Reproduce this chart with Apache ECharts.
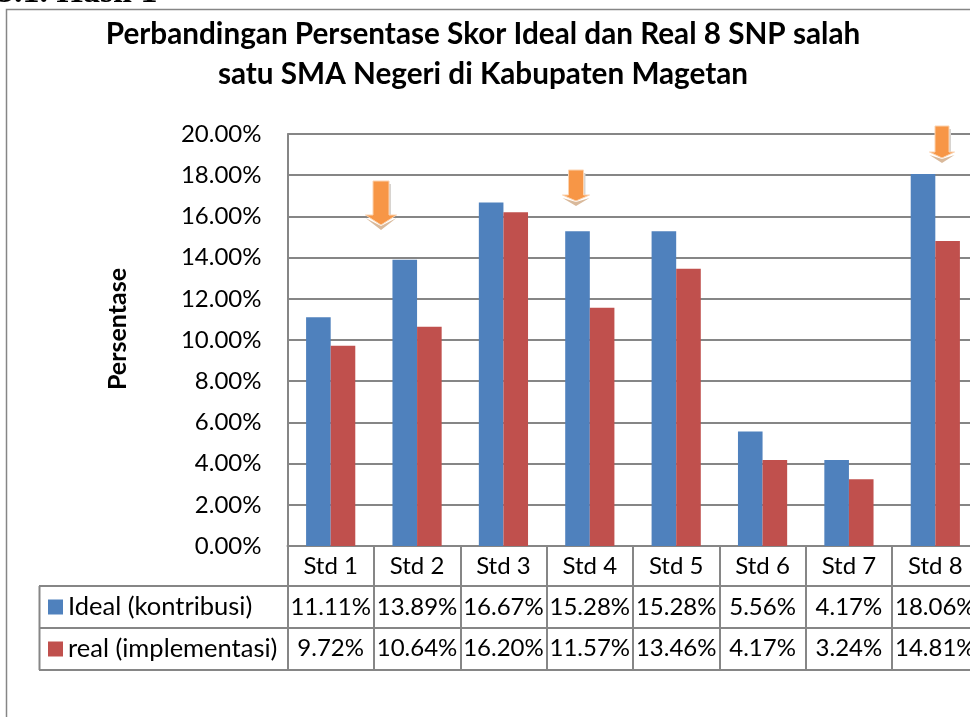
<!DOCTYPE html>
<html>
<head>
<meta charset="utf-8">
<style>
  html, body { margin: 0; padding: 0; background: #fff; overflow: hidden; }
  /* plot runs past the right edge of the window, same as the source image */
  #chart { width: 1000px; height: 717px; }
</style>
</head>
<body>
<div id="chart"></div>
<script src="https://cdn.jsdelivr.net/npm/echarts@6/dist/echarts.min.js"></script>
<script>
const categories = ['Std 1', 'Std 2', 'Std 3', 'Std 4', 'Std 5', 'Std 6', 'Std 7', 'Std 8']
const idealValues = [11.11, 13.89, 16.67, 15.28, 15.28, 5.56, 4.17, 18.06]
const realValues = [9.72, 10.64, 16.2, 11.57, 13.46, 4.17, 3.24, 14.81]
const seriesNames = ['Ideal (kontribusi)', 'real (implementasi)']

const font = 'Lato, "Open Sans", sans-serif'
const lineColor = '#868686'

const chart = echarts.init(document.getElementById('chart'))

// hand drawn arrows on top of the chart
function arrow(cx, top, shaft, headStart, tip, head) {
  return [
    {
      type: 'polygon',
      z: 20,
      shape: { points: [[cx - head, headStart + 3], [cx, tip + 1], [cx + head, headStart + 3], [cx, tip + 5]] },
      style: { fill: '#d9b99b' },
    },
    {
      type: 'rect',
      z: 20,
      shape: { x: cx + shaft, y: top + 3, width: 2, height: headStart - top - 3 },
      style: { fill: '#d8d4d0' },
    },
    {
      type: 'polygon',
      z: 21,
      shape: {
        points: [
          [cx - shaft, top], [cx + shaft, top], [cx + shaft, headStart],
          [cx + head, headStart], [cx, tip], [cx - head, headStart], [cx - shaft, headStart],
        ],
      },
      style: { fill: '#f79646', stroke: '#fbd3b0', lineWidth: 1 },
    },
  ]
}

function hLine(x1, x2, y) {
  return {
    type: 'line',
    z: 5,
    shape: { x1, y1: y, x2, y2: y },
    style: { stroke: lineColor, lineWidth: 2 },
  }
}

const cellLabel = (name, i) =>
  `{c|${name}}\n{v|${idealValues[i].toFixed(2)}%}\n{v|${realValues[i].toFixed(2)}%}`

chart.setOption({
  backgroundColor: '#fff',
  animation: false,
  title: {
    text: 'Perbandingan Persentase Skor Ideal dan Real 8 SNP salah\nsatu SMA Negeri di Kabupaten Magetan',
    left: 478,
    top: 9,
    textAlign: 'center',
    textStyle: { fontFamily: font, fontWeight: 'bold', fontSize: 29.7, lineHeight: 40, color: '#000' },
  },
  legend: {
    orient: 'vertical',
    left: 48,
    top: 594,
    padding: 0,
    itemWidth: 15,
    itemHeight: 15,
    itemGap: 16,
    itemStyle: { borderWidth: 0 },
    icon: 'rect',
    selectedMode: false,
    data: seriesNames,
    textStyle: { fontFamily: font, fontSize: 25.5, lineHeight: 20, color: '#000' },
  },
  grid: { left: 287.5, top: 134, width: 691, height: 412 },
  xAxis: {
    type: 'category',
    data: categories,
    axisLine: { lineStyle: { color: lineColor, width: 2 } },
    axisTick: { show: true, length: 124, lineStyle: { color: lineColor, width: 2 } },
    axisLabel: {
      margin: 0,
      interval: 0,
      formatter: (name, i) => cellLabel(name, i),
      rich: {
        c: { fontFamily: font, fontSize: 24, lineHeight: 41, color: '#000' },
        v: { fontFamily: font, fontSize: 24, lineHeight: 41, color: '#000' },
      },
    },
  },
  yAxis: {
    type: 'value',
    min: 0,
    max: 20,
    interval: 2,
    name: 'Persentase',
    nameLocation: 'middle',
    nameGap: 157,
    nameTextStyle: { fontFamily: font, fontWeight: 'bold', fontSize: 25, color: '#000', padding: [0, 0, 0, 22] },
    axisLine: { show: true, lineStyle: { color: lineColor, width: 2 } },
    axisTick: { show: false },
    axisLabel: {
      margin: 26,
      fontFamily: font,
      fontSize: 24,
      color: '#000',
      formatter: (v) => v.toFixed(2) + '%',
    },
    splitLine: { lineStyle: { color: lineColor, width: 2 } },
  },
  series: [
    {
      name: seriesNames[0],
      type: 'bar',
      data: idealValues,
      barWidth: 24.6,
      barGap: 0,
      itemStyle: { color: '#4f81bd' },
    },
    {
      name: seriesNames[1],
      type: 'bar',
      data: realValues,
      barWidth: 24.6,
      itemStyle: { color: '#c0504d' },
    },
  ],
  graphic: [
    {
      type: 'text',
      z: 30,
      x: -3,
      y: 10,
      style: {
        text: '3.1. Hasil 1',
        fontFamily: '"Liberation Serif", serif',
        fontWeight: 'bold',
        fontSize: 34,
        fill: '#000',
        verticalAlign: 'bottom',
      },
    },
    {
      type: 'rect',
      z: 0,
      shape: { x: 6.5, y: 9.5, width: 1000, height: 800 },
      style: { fill: 'none', stroke: lineColor, lineWidth: 1.5 },
    },
    hLine(39, 1000, 586),
    hLine(39, 1000, 628),
    hLine(39, 1000, 670),
    { type: 'line', z: 5, shape: { x1: 39.5, y1: 586, x2: 39.5, y2: 670 }, style: { stroke: lineColor, lineWidth: 2 } },
    ...arrow(381, 181, 8, 215, 225, 15.5),
    ...arrow(576, 170, 7.5, 195, 201, 13.5),
    ...arrow(942, 126, 7, 152, 158, 12.5),
  ],
})
</script>
</body>
</html>
